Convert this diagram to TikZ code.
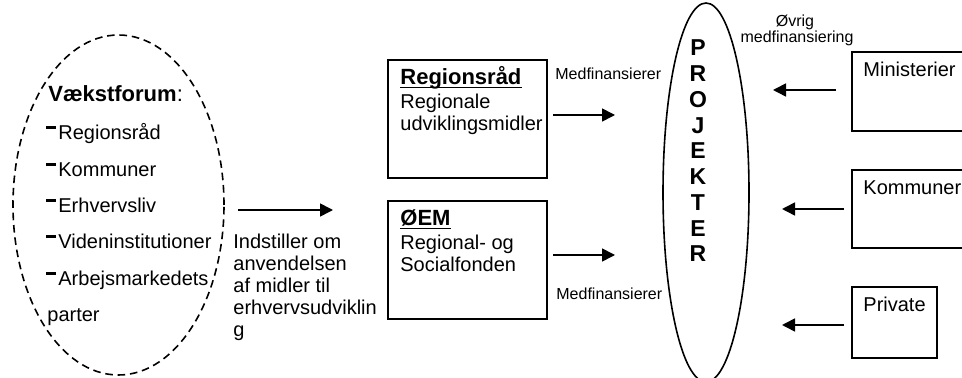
\documentclass[tikz,border=0pt]{standalone}
\usepackage{fontspec}
\setmainfont{Liberation Sans}
\usetikzlibrary{positioning, shapes.geometric, arrows.meta}
\newcommand{\px}{0.5pt}
\tikzstyle{canvas} = [x = \px, y = -\px]
\tikzstyle{bodyText} = [anchor=base west, inner sep=0, font=\fontsize{10}{12}\selectfont]
\tikzstyle{headText} = [anchor=base west, inner sep=0, font=\fontsize{11}{13}\selectfont\bfseries]
\tikzstyle{smallText} = [anchor=base, inner sep=0, font=\fontsize{8}{9.6}\selectfont]
\tikzstyle{letterText} = [anchor=base, inner sep=0, font=\fontsize{11.5}{13}\selectfont\bfseries]
\tikzstyle{panel} = [draw, line width=0.8pt, anchor=north west, inner sep=0]
\tikzstyle{forumShape} = [draw, ellipse, dash pattern=on 3.8pt off 2.4pt, line width=0.8pt, inner sep=0]
\tikzstyle{projectShape} = [draw, ellipse, line width=0.8pt, inner sep=0]
\tikzstyle{flowArrow} = [-{Triangle[length=6.5pt, width=6.5pt]}, line width=0.8pt]
\tikzstyle{underLine} = [line width=0.75pt]
\newcommand{\fundPanel}[3]{\node [panel, minimum width = 159*\px, minimum height = 118*\px] (#1) at (387, #2) {};
  \node [headText] (#1Title) at ([shift={(13,26)}]#1.north west) {#3};
  \draw [underLine] ([yshift=-1.25pt]#1Title.base west) -- ([yshift=-1.25pt]#1Title.base east);}
\newcommand{\panelLine}[3]{\node [bodyText] (#1Line#2) at ([shift={(13,{28 + 22*#2})}]#1.north west) {#3};}
\newcommand{\sourcePanel}[5]{\node [panel, minimum width = #4*\px, minimum height = #5*\px] (#1) at (851, #2) {};
  \node [bodyText] (#1Text) at ([shift={(12,26)}]#1.north west) {#3};}

\begin{document}
\begin{tikzpicture}[canvas]
  \useasboundingbox (0,0) rectangle (962,378);
  % Vaekstforum
  \node [forumShape, minimum width = 211*\px, minimum height = 340*\px] (forum) at (118.5,205) {};
  \node [headText] (forumTitle) at (48,102) {Vækstforum\textmd{:}};
  \foreach \forumMember [count=\i] in {Regionsråd, Kommuner, Erhvervsliv, Videninstitutioner, Arbejsmarkedets} {
    \node [bodyText] (member\i) at (58, {140 + 36.3*(\i-1)}) {\forumMember};
    \fill ([shift={(-12,-13.5)}]member\i.base west) rectangle +(10,3);
  }
  \node [bodyText] (memberRest) at (47,321.5) {parter};
  \coordinate (forumOut) at (238,210);
  \coordinate (forumIn) at (333,210);
  \draw [flowArrow] (forumOut) -- (forumIn);
  \foreach \adviceLine [count=\i] in {Indstiller om, anvendelsen, af midler til, erhvervsudviklin, g}
    \node [bodyText] (advice\i) at (233, {249 + 22*(\i-1)}) {\adviceLine};

  % midler
  \fundPanel{regionsraad}{59}{Regionsråd}
  \panelLine{regionsraad}{1}{Regionale}
  \panelLine{regionsraad}{2}{udviklingsmidler}
  \fundPanel{oem}{200}{ØEM}
  \panelLine{oem}{1}{Regional- og}
  \panelLine{oem}{2}{Socialfonden}
  \coordinate (regionsraadOut) at (553,115);
  \coordinate (regionsraadIn) at (615,115);
  \coordinate (oemOut) at (553,255);
  \coordinate (oemIn) at (615,255);
  \draw [flowArrow] (regionsraadOut) -- (regionsraadIn);
  \draw [flowArrow] (oemOut) -- (oemIn);
  \node [smallText, anchor=base west] (coFinanceTop) at (555,80) {Medfinansierer};
  \node [smallText, anchor=base west] (coFinanceBottom) at (556,300) {Medfinansierer};

  % projekter
  \node [projectShape, minimum width = 86*\px, minimum height = 379*\px] (projekter) at (706,192.5) {};
  \foreach \letter [count=\i] in {P,R,O,J,E,K,T,E,R}
    \node [letterText] (letter\i) at (698, {56 + 25.75*(\i-1)}) {\letter};

  % oevrig medfinansiering
  \node [smallText] (otherFinanceA) at (795,27) {Øvrig};
  \node [smallText] (otherFinanceB) at (797,43) {medfinansiering};
  \sourcePanel{ministerier}{51}{Ministerier}{115}{79}
  \sourcePanel{kommuner}{169}{Kommuner}{115}{78}
  \sourcePanel{private}{286}{Private}{85}{71}
  \coordinate (ministerierOut) at (836,90);
  \coordinate (ministerierIn) at (773,90);
  \coordinate (kommunerOut) at (844,209);
  \coordinate (kommunerIn) at (782,209);
  \coordinate (privateOut) at (844,325);
  \coordinate (privateIn) at (782,325);
  \draw [flowArrow] (ministerierOut) -- (ministerierIn);
  \draw [flowArrow] (kommunerOut) -- (kommunerIn);
  \draw [flowArrow] (privateOut) -- (privateIn);
\end{tikzpicture}
\end{document}
